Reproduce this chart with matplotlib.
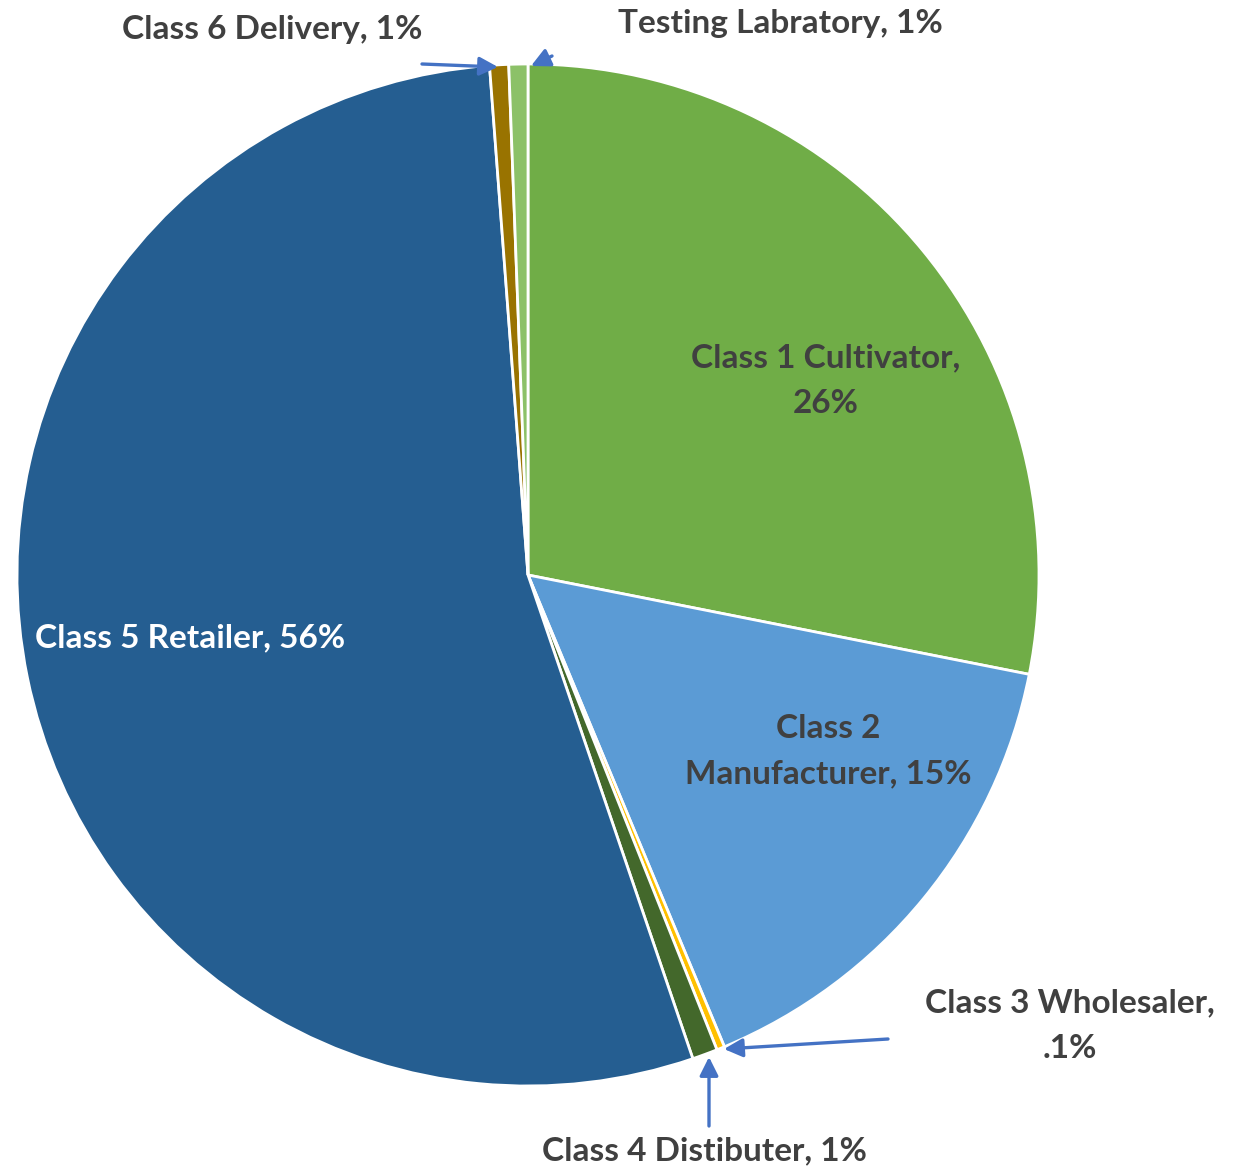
import matplotlib.pyplot as plt

# データ（角度は画像から読み取り）
labels = ['Class 1 Cultivator', 'Class 2 Manufacturer', 'Class 3 Wholesaler',
          'Class 4 Distibuter', 'Class 5 Retailer', 'Class 6 Delivery',
          'Testing Labratory']
values = [28.1, 15.6, 0.25, 0.8, 54.0, 0.6, 0.6]
label_texts = ['Class 1 Cultivator,\n26%', 'Class 2\nManufacturer, 15%',
               'Class 3 Wholesaler,\n.1%', 'Class 4 Distibuter, 1%',
               'Class 5 Retailer, 56%', 'Class 6 Delivery, 1%',
               'Testing Labratory, 1%']
colors = ['#70AD47', '#5B9BD5', '#FFC000', '#43682B', '#255E91', '#997300', '#8CC168']

W, H = 1239, 1168
cx, cy, r = 528, 575, 511

fig = plt.figure(figsize=(W / 100, H / 100), dpi=100)
ax = fig.add_axes([(cx - r) / W, (H - cy - r) / H, 2 * r / W, 2 * r / H])
ax.pie(values, colors=colors, startangle=90, counterclock=False, radius=1,
       wedgeprops=dict(edgecolor='white', linewidth=2))
ax.set_xlim(-1, 1)
ax.set_ylim(-1, 1)
ax.set_aspect('auto')
ax.axis('off')


def px(x, y):
    # ピクセル座標 -> データ座標
    return (x - cx) / r, (cy - y) / r


font = dict(family=['Lato', 'DejaVu Sans'], fontweight='bold', fontsize=24,
            ha='center', va='center', linespacing=1.7)
dark = '#404040'

# ラベル位置
pos = [(826, 381), (828, 751), (1070, 1026), (704, 1151),
       (190, 638), (272, 29), (780, 23)]
for i, t in enumerate(label_texts):
    c = 'white' if i == 4 else dark
    ax.text(*px(*pos[i]), t, color=c, clip_on=False, **font)

# 矢印
arrow = dict(arrowstyle='-|>', color='#4472C4', lw=2.4, mutation_scale=28,
             shrinkA=0, shrinkB=0)
arrows = [((422, 64), (498, 67)),
          ((552, 56), (531, 66)),
          ((888, 1039), (724, 1049)),
          ((709, 1126), (709, 1057))]
for a, b in arrows:
    ax.annotate('', xy=px(*b), xytext=px(*a), arrowprops=arrow,
                annotation_clip=False)

plt.savefig('out.png', dpi=100)
